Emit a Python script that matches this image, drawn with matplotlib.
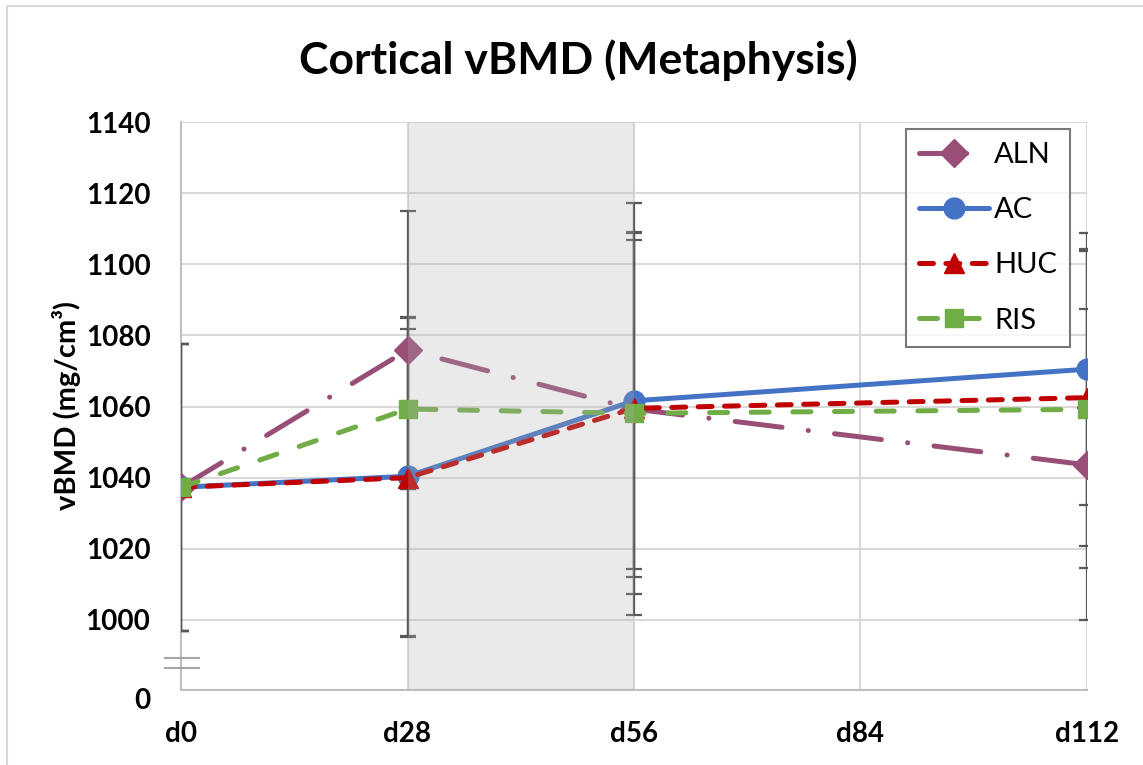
import matplotlib
matplotlib.use("Agg")
import matplotlib.pyplot as plt
import numpy as np
from matplotlib.patches import Rectangle
from matplotlib.transforms import ScaledTranslation, blended_transform_factory

plt.rcParams['font.family'] = ['Lato', 'DejaVu Sans']
plt.rcParams['lines.scale_dashes'] = False

# ---- data ----
days = [0, 28, 56, 112]
tick_days = [0, 28, 56, 84, 112]
tick_labels = ['d0', 'd28', 'd56', 'd84', 'd112']
series = ['ALN', 'AC', 'HUC', 'RIS']
aln = [1037.3, 1075.9, 1059.3, 1043.6]
aln_err = [40.3, 39.2, 57.8, 43.7]
ac = [1037.3, 1040.4, 1061.6, 1070.5]
ac_err = [40.3, 44.9, 47.3, 38.2]
huc = [1037.3, 1040.0, 1059.5, 1062.5]
huc_err = [40.3, 44.9, 47.3, 41.8]
ris = [1037.3, 1059.3, 1058.1, 1059.2]
ris_err = [40.3, 22.4, 50.9, 44.5]
y_ticks = [980.3, 1000, 1020, 1040, 1060, 1080, 1100, 1120, 1140]
y_tick_labels = ['0', '1000', '1020', '1040', '1060', '1080', '1100', '1120', '1140']
shade_range = (28, 56)

W, H = 1143, 765
fig = plt.figure(figsize=(W / 100, H / 100), dpi=100)
ax = fig.add_axes([181 / W, 1 - 690 / H, (1087 - 181) / W, (690 - 122) / H])

colors = {'ALN': '#984e77', 'AC': '#4472c4', 'HUC': '#c00000', 'RIS': '#70ad47'}
styles = {
    'ALN': dict(marker='D', ms=14, dashes=(34, 19, 0.1, 19)),
    'AC': dict(marker='o', ms=15, dashes=None),
    'HUC': dict(marker='^', ms=14, dashes=(10, 9)),
    'RIS': dict(marker='s', ms=13, dashes=(13, 17)),
}
data = {'ALN': (aln, aln_err), 'AC': (ac, ac_err), 'HUC': (huc, huc_err), 'RIS': (ris, ris_err)}

for name in series:
    vals, errs = data[name]
    ax.errorbar(days, vals, yerr=errs, fmt='none', ecolor='#595959', elinewidth=1.6,
                capsize=6, capthick=1.6, zorder=3)

for name in series:
    vals, errs = data[name]
    st = styles[name]
    ln, = ax.plot(days, vals, color=colors[name], lw=3.6, marker=st['marker'],
                  ms=st['ms'], label=name, zorder=4, solid_capstyle='round',
                  dash_capstyle='round')
    if st['dashes'] is not None:
        ln.set_dashes(st['dashes'])

ax.axvspan(*shade_range, color='#b0b0b0', alpha=0.26, lw=0, zorder=5)

ax.set_xlim(0, 112)
ax.set_ylim(y_ticks[0], 1140)
ax.set_xticks(tick_days)
ax.set_xticklabels(tick_labels)
ax.set_yticks(y_ticks)
ax.set_yticklabels(y_tick_labels)
ax.grid(True, color='#d9d9d9', lw=1.5)
ax.set_axisbelow(True)
for s in ['top', 'right']:
    ax.spines[s].set_visible(False)
for s in ['left', 'bottom']:
    ax.spines[s].set_color('#bfbfbf')
    ax.spines[s].set_linewidth(1.5)
ax.tick_params(length=0, labelsize=20)
ax.tick_params(axis='y', pad=22)
ax.tick_params(axis='x', pad=22)
for lbl in ax.get_xticklabels() + ax.get_yticklabels():
    lbl.set_fontweight('bold')

# shift the "0" label slightly below the spine
t0 = ax.yaxis.get_major_ticks()[0]
t0.label1.set_transform(t0.label1.get_transform() + ScaledTranslation(0, -8 / 100, fig.dpi_scale_trans))

# axis break marks
tr = blended_transform_factory(ax.transAxes, ax.transData)
for yb in (989.2, 986.4):
    ax.plot([-16 / 906, 18 / 906], [yb, yb], color='#a6a6a6', lw=1.5, transform=tr,
            clip_on=False, zorder=6)

ax.set_ylabel('vBMD (mg/cm³)', fontsize=21, fontweight='bold', labelpad=3)

fig.text(578 / W, 1 - 60 / H, 'Cortical vBMD (Metaphysis)', fontsize=32, fontweight='bold',
         ha='center', va='center')

leg = ax.legend(loc='upper right', bbox_to_anchor=((1070 - 181) / 906, 1 - (129 - 122) / 568),
                fontsize=21, frameon=True, fancybox=False, handlelength=2.4,
                labelspacing=1.0, borderpad=0.45, handletextpad=0.17, borderaxespad=0)
leg.get_frame().set_edgecolor('#595959')
leg.get_frame().set_linewidth(1.5)
leg.set_zorder(10)

fig.patches.append(Rectangle((6.5 / W, -0.02), 1.05, 1 - 6 / H + 0.02, transform=fig.transFigure,
                             fill=False, edgecolor='#d9d9d9', lw=1.5))

fig.savefig('out.png', dpi=100)
